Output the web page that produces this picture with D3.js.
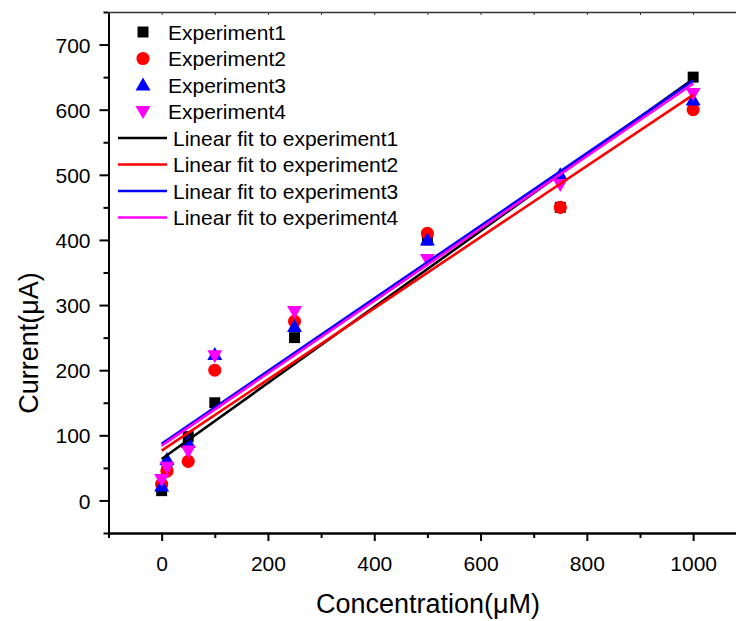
<!DOCTYPE html>
<html><head><meta charset="utf-8">
<script src="https://cdn.jsdelivr.net/npm/d3@7"></script>
<style>body{margin:0;background:#fff;}svg{display:block;font-family:"Liberation Sans",Arial,sans-serif;}</style>
</head><body>
<svg id="c" width="736" height="621"></svg>
<script>
const concentrations = [0, 10, 50, 100, 250, 500, 750, 1000];
const experiment1 = [15, 48, 98, 150, 250, 400, 450, 650];
const experiment2 = [25, 45, 60, 200, 275, 410, 450, 600];
const experiment3 = [22, 63, 89, 224, 267, 400, 500, 615];
const experiment4 = [32, 51, 76, 222, 290, 370, 485, 625];
const seriesNames = ["Experiment1", "Experiment2", "Experiment3", "Experiment4"];
const fitNames = ["Linear fit to experiment1", "Linear fit to experiment2", "Linear fit to experiment3", "Linear fit to experiment4"];
const xTicks = [0, 200, 400, 600, 800, 1000];
const yTicks = [0, 100, 200, 300, 400, 500, 600, 700];

const colors = ["#000000", "#ff0000", "#0000ff", "#ff00ff"];
const shapes = ["square", "circle", "triangle", "down"];
const allSeries = [experiment1, experiment2, experiment3, experiment4];

const svg = d3.select("#c");
const x = d3.scaleLinear().domain([-100, 1100]).range([108.5, 746.3]);
const y = d3.scaleLinear().domain([-50, 750]).range([533, 12]);

function fit(xs, ys) {
  const n = xs.length, mx = d3.mean(xs), my = d3.mean(ys);
  let sxy = 0, sxx = 0;
  for (let i = 0; i < n; i++) { sxy += (xs[i]-mx)*(ys[i]-my); sxx += (xs[i]-mx)**2; }
  const b = sxy/sxx; return {a: my - b*mx, b};
}

function symbolPath(shape) {
  if (shape === "square") return d3.symbol(d3.symbolSquare, 120)();
  if (shape === "circle") return d3.symbol(d3.symbolCircle, 135)();
  if (shape === "triangle") return "M0,-7.5L7.5,5.5L-7.5,5.5Z";
  return "M0,7.5L7.5,-5.5L-7.5,-5.5Z";
}

// axes
const gBottom = svg.append("g").attr("transform", `translate(0,${y(-50)})`)
  .call(d3.axisBottom(x).tickValues(xTicks).tickSize(8).tickSizeOuter(0).tickFormat(d3.format("d")));
const gBottomMinor = svg.append("g").attr("transform", `translate(0,${y(-50)})`)
  .call(d3.axisBottom(x).tickValues([-100, 100, 300, 500, 700, 900]).tickSize(5).tickSizeOuter(0).tickFormat(""));
const gLeft = svg.append("g").attr("transform", `translate(${x(-100)},0)`)
  .call(d3.axisLeft(y).tickValues(yTicks).tickSize(9).tickSizeOuter(0).tickFormat(d3.format("d")));
const gLeftMinor = svg.append("g").attr("transform", `translate(${x(-100)},0)`)
  .call(d3.axisLeft(y).tickValues([-50, 50, 150, 250, 350, 450, 550, 650, 750]).tickSize(5).tickSizeOuter(0).tickFormat(""));
const gTop = svg.append("g").attr("transform", `translate(0,${y(750)})`)
  .call(d3.axisBottom(x).tickValues([-100,0,100,200,300,400,500,600,700,800,900,1000]).tickSize(3).tickSizeOuter(0).tickFormat(""));
gTop.select(".domain").attr("stroke", "#333").attr("stroke-width", 1.5);
gTop.selectAll(".tick line").attr("stroke", "#333").attr("stroke-width", 1);
[gBottom, gBottomMinor, gLeft, gLeftMinor].forEach(g => {
  g.select(".domain").attr("stroke", "#000").attr("stroke-width", 2);
  g.selectAll(".tick line").attr("stroke", "#000").attr("stroke-width", 2);
});
gBottom.selectAll(".tick text").attr("font-size", 21).attr("dy", 0).attr("y", 38).attr("fill", "#000")
  .attr("font-family", "'Liberation Sans',Arial,sans-serif");
gLeft.selectAll(".tick text").attr("font-size", 21).attr("x", -18).attr("dy", "0.36em").attr("fill", "#000")
  .attr("font-family", "'Liberation Sans',Arial,sans-serif");

// titles
svg.append("text").attr("x", 428).attr("y", 613).attr("text-anchor", "middle").attr("font-size", 27).text("Concentration(\u03bcM)");
svg.append("text").attr("transform", "translate(38,343) rotate(-90)").attr("text-anchor", "middle").attr("font-size", 27).text("Current(\u03bcA)");

// points
allSeries.forEach((s, i) => {
  svg.append("g").selectAll("path").data(s).join("path")
    .attr("d", symbolPath(shapes[i]))
    .attr("transform", (d, j) => `translate(${x(concentrations[j])},${y(d)})`)
    .attr("fill", colors[i]);
});

// fit lines
allSeries.forEach((s, i) => {
  const f = fit(concentrations, s);
  const xr = [0, 1000];
  svg.append("line")
    .attr("x1", x(xr[0])).attr("y1", y(f.a + f.b*xr[0]))
    .attr("x2", x(xr[1])).attr("y2", y(f.a + f.b*xr[1]))
    .attr("stroke", colors[i]).attr("stroke-width", 2.6);
});

// legend
const rowY = i => 32 + i*26.5;
seriesNames.forEach((n, i) => {
  svg.append("path").attr("d", symbolPath(shapes[i])).attr("transform", `translate(143,${rowY(i)})`).attr("fill", colors[i]);
  svg.append("text").attr("x", 168).attr("y", rowY(i)).attr("dy", "0.36em").attr("font-size", 21).text(n);
});
fitNames.forEach((n, i) => {
  const yy = rowY(i + 4);
  svg.append("line").attr("x1", 118).attr("x2", 167).attr("y1", yy).attr("y2", yy).attr("stroke", colors[i]).attr("stroke-width", 2.6);
  svg.append("text").attr("x", 173).attr("y", yy).attr("dy", "0.36em").attr("font-size", 21).text(n);
});
</script>
</body></html>
